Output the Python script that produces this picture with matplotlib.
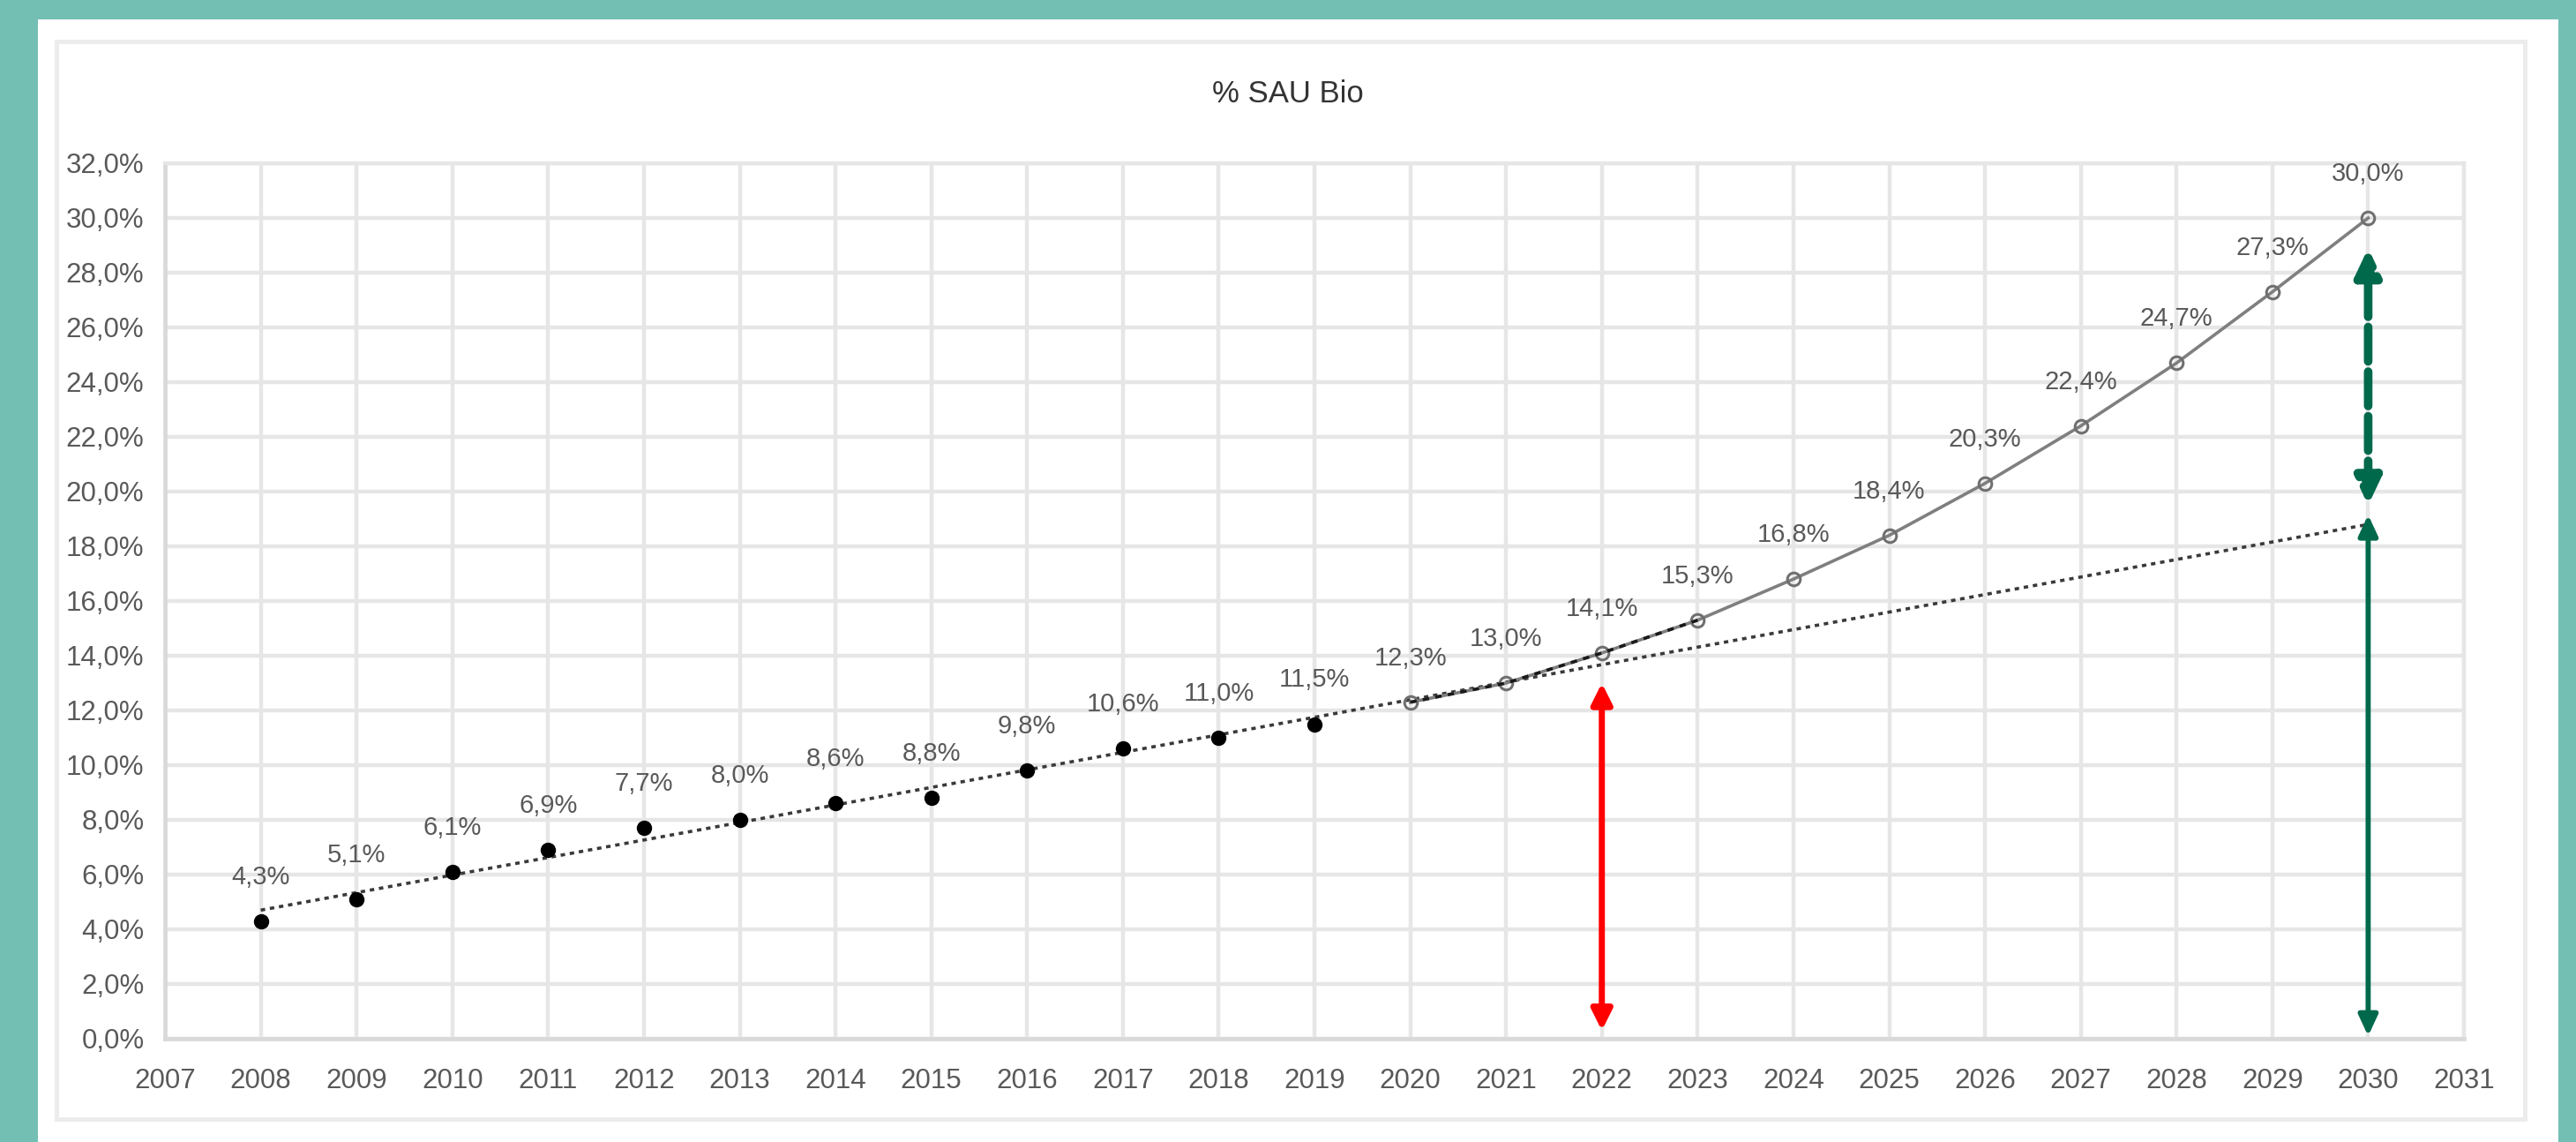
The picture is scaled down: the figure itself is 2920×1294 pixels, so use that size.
import matplotlib
matplotlib.use("Agg")
import matplotlib.pyplot as plt
from matplotlib import font_manager
from matplotlib.patches import Rectangle, FancyArrowPatch

# data
actual_years = [2008, 2009, 2010, 2011, 2012, 2013, 2014, 2015, 2016, 2017, 2018, 2019]
actual_values = [4.3, 5.1, 6.1, 6.9, 7.7, 8.0, 8.6, 8.8, 9.8, 10.6, 11.0, 11.5]

proj_years = [2020, 2021, 2022, 2023, 2024, 2025, 2026, 2027, 2028, 2029, 2030]
proj_values = [12.3, 13.0, 14.1, 15.3, 16.8, 18.4, 20.3, 22.4, 24.7, 27.3, 30.0]

# linear trend (Excel trendline), end points
trend_years = [2008, 2030]
trend_values = [4.7, 18.8]

# arrows: year, bottom, top (in %)
red_arrow = (2022, 0.3, 13.0)
green_solid_arrow = (2030, 0.1, 19.15)
green_dashed_arrow = (2030, 19.5, 28.9)

year_ticks = list(range(2007, 2032))
pct_ticks = list(range(0, 33, 2))

title = "% SAU Bio"

# fonts
available = {f.name for f in font_manager.fontManager.ttflist}
if "Liberation Sans Narrow" in available:
    fam = ["Liberation Sans Narrow", "DejaVu Sans"]
    tick_fs, label_fs, title_fs = 26, 24, 29
else:
    fam = ["Liberation Sans", "DejaVu Sans"]
    tick_fs, label_fs, title_fs = 22.5, 21, 25
plt.rcParams["font.family"] = fam

W, H = 2920, 1294
fig = plt.figure(figsize=(W / 100, H / 100), dpi=100)
fig.patch.set_facecolor("#74BFB4")

# white panel and light inner frame
fig.add_artist(Rectangle((43 / W, 0), (2900 - 43) / W, (H - 22) / H,
                         transform=fig.transFigure, facecolor="white",
                         edgecolor="none", zorder=-10))
fig.add_artist(Rectangle((64 / W, (H - 1268) / H), (2862 - 64) / W, (1268 - 47) / H,
                         transform=fig.transFigure, facecolor="none",
                         edgecolor="#ececec", lw=3.6, zorder=-9))

ax = fig.add_axes([187 / W, 1 - 1177 / H, (2793 - 187) / W, (1177 - 185) / H])
ax.set_facecolor("white")

grid_c = "#e6e6e6"
ax.set_xlim(2007, 2031)
ax.set_ylim(0, 32)
ax.set_xticks(year_ticks)
ax.set_xticklabels([str(y) for y in year_ticks])
ax.set_yticks(pct_ticks)
ax.set_yticklabels([f"{v:.1f}%".replace(".", ",") for v in pct_ticks])
ax.grid(True, color=grid_c, lw=3.2, zorder=0)
ax.set_axisbelow(True)
ax.tick_params(axis="both", length=0, colors="#595959", labelsize=tick_fs)
ax.tick_params(axis="x", pad=24)
ax.tick_params(axis="y", pad=17)
for s in ["top", "right"]:
    ax.spines[s].set_color(grid_c)
    ax.spines[s].set_linewidth(3.2)
for s in ["left", "bottom"]:
    ax.spines[s].set_color("#d9d9d9")
    ax.spines[s].set_linewidth(3.4)

# trend line
ax.plot(trend_years, trend_values, color="#3a3a3a", lw=2.6,
        dashes=(1.4, 1.5), zorder=3)

# projection
ax.plot(proj_years, proj_values, color="#7f7f7f", lw=2.6, marker="o",
        ms=10.5, mfc="none", mec="#6f6f6f", mew=2.2, zorder=4)
ax.plot(proj_years[:4], proj_values[:4], color="#1a1a1a", lw=2.6,
        dashes=(2.0, 2.0), zorder=5)

# actual
ax.plot(actual_years, actual_values, linestyle="none", marker="o", ms=11.5,
        color="black", zorder=6)

for x, v in zip(actual_years + proj_years, actual_values + proj_values):
    ax.annotate(f"{v:.1f}%".replace(".", ","), (x, v), xytext=(0, 36),
                textcoords="offset points", ha="center", va="center",
                fontsize=label_fs, color="#595959", zorder=7)


def double_arrow(spec, color, lw, hl, hw, ls="-"):
    x, y0, y1 = spec
    arr = FancyArrowPatch((x, y0), (x, y1),
                          arrowstyle=f"<|-|>,head_length={hl},head_width={hw}",
                          mutation_scale=1, color=color, lw=lw, linestyle=ls,
                          shrinkA=0, shrinkB=0, zorder=8)
    ax.add_patch(arr)


double_arrow(red_arrow, "#ff0000", 5.0, 14, 7)
double_arrow(green_solid_arrow, "#00694C", 4.2, 14, 6.5)
# dash pattern is scaled by the line width
double_arrow(green_dashed_arrow, "#00694C", 7.0, 18, 8.5, ls=(0, (4.0, 1.2)))

fig.text(0.5, 1 - 106 / H, title, ha="center", va="center",
         fontsize=title_fs, color="#333333")

fig.savefig("out.png", dpi=100, facecolor=fig.get_facecolor())
